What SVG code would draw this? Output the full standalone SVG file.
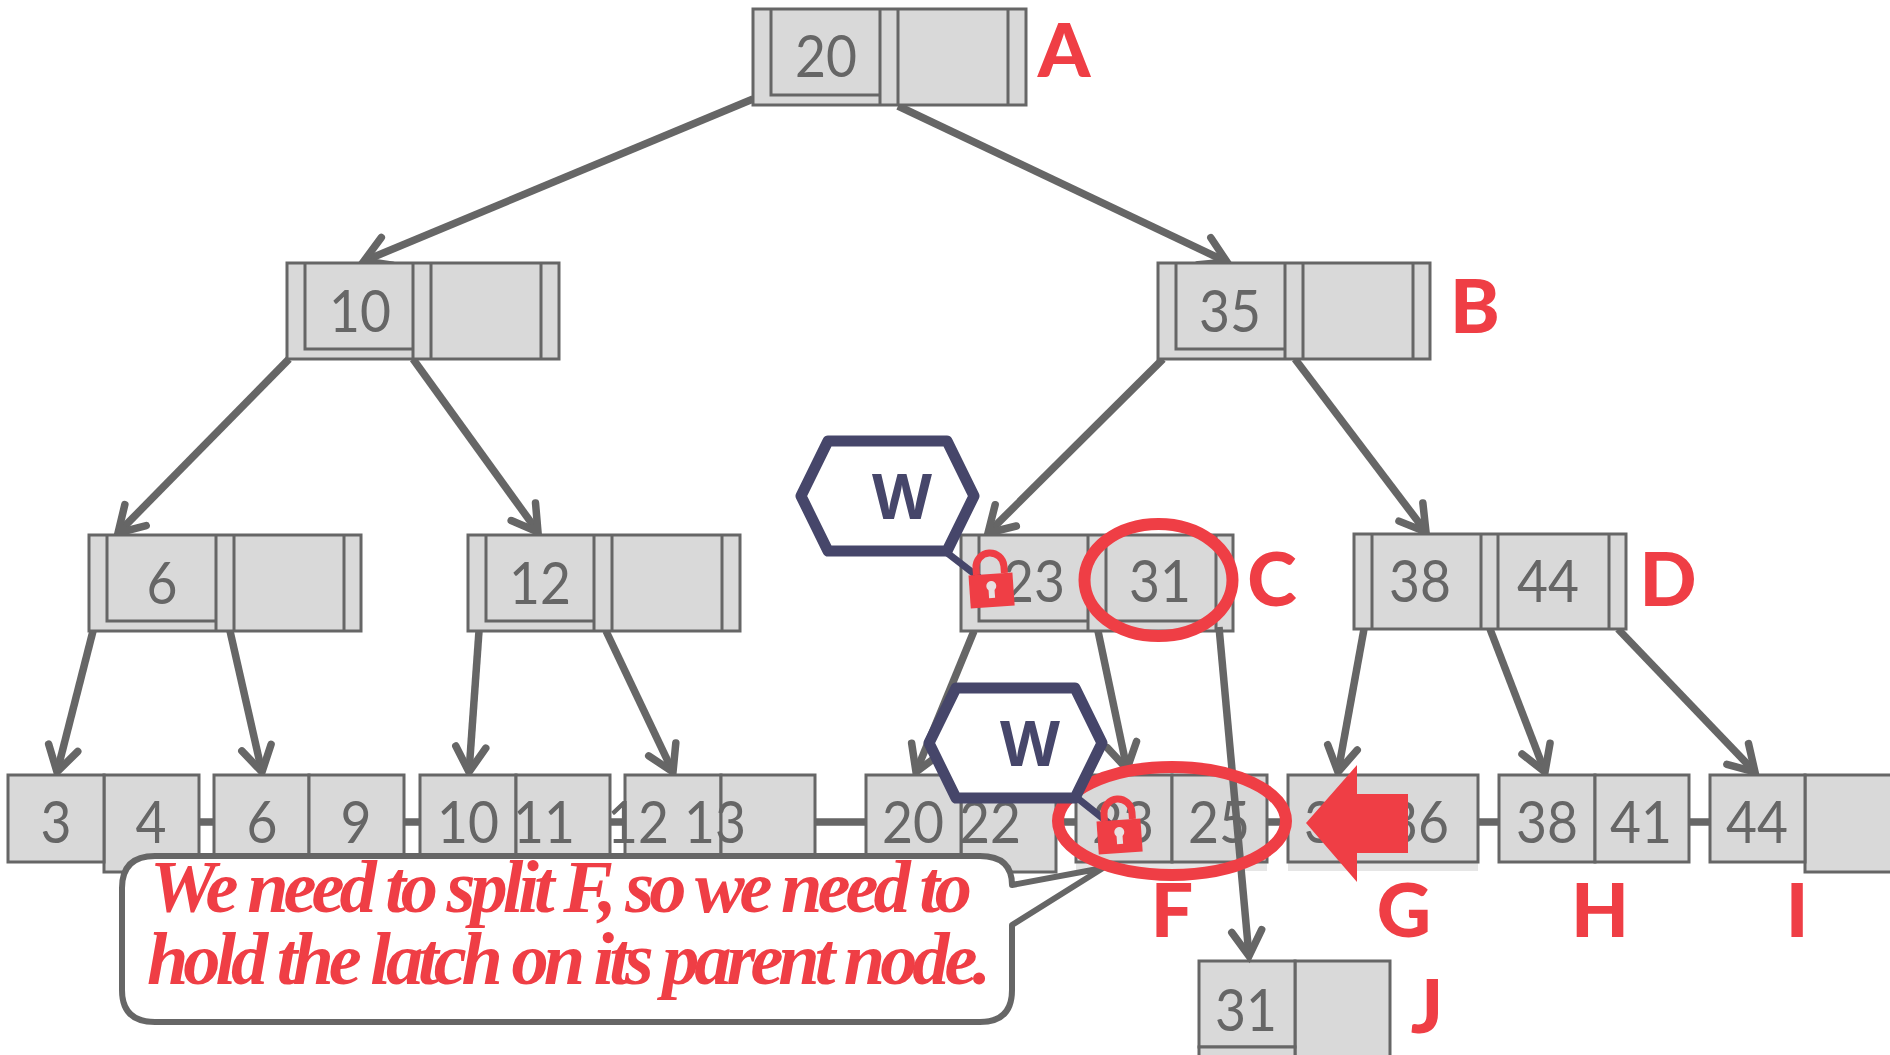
<svg xmlns="http://www.w3.org/2000/svg" width="1890" height="1055" viewBox="0 0 1890 1055">
<style>
.c{fill:#d9d9d9;stroke:#666;stroke-width:3}
.i{fill:none;stroke:#666;stroke-width:3}
.n{font-family:Lato,"Liberation Sans",sans-serif;font-size:59px;fill:#666;text-anchor:middle}
.l{font-family:Lato,"Liberation Sans",sans-serif;font-size:75px;font-weight:900;fill:#ef3e45;text-anchor:middle}
.w{font-family:"Open Sans","Liberation Sans",sans-serif;font-size:62px;font-weight:700;fill:#46466a;text-anchor:middle}
.a{fill:none;stroke:#666;stroke-width:7.500;marker-end:url(#h)}
.k{fill:none;stroke:#666;stroke-width:7.500}
.hx{fill:#fff;stroke:#46466a;stroke-width:11;stroke-linejoin:round}
.wl{stroke:#46466a;stroke-width:7;fill:none}
.e{fill:none;stroke:#ef3e45;stroke-width:12}
.s{font-family:"Liberation Serif",serif;font-size:74px;font-weight:700;font-style:italic;fill:#ef3e45;letter-spacing:-5px}
</style>
<defs>
<marker id="h" markerUnits="userSpaceOnUse" markerWidth="40" markerHeight="40" refX="30" refY="20" orient="auto" overflow="visible">
<path d="M5,5 L30,20 L5,35" fill="none" stroke="#666" stroke-width="7.500" stroke-linecap="round"/>
</marker>
<g id="lock">
<path d="M-14,-8 V-15 a14,14 0 0 1 28,0 V-8" fill="none" stroke="#ef3e45" stroke-width="7"/>
<rect x="-22" y="-8" width="44" height="33" fill="#ef3e45"/>
<circle cx="0" cy="4" r="5" fill="#e8e0e0"/>
<rect x="-3" y="4" width="6" height="12" fill="#e8e0e0"/>
</g>
</defs>

<g id="connectors">
<path class="k" d="M199,822H214M404,822H420M610,822H625M815,822H866M1056,822H1076M1267,822H1288M1478,822H1499M1689,822H1710"/>
<line class="a" x1="753" y1="99" x2="364" y2="261"/>
<line class="a" x1="898" y1="106" x2="1227" y2="262"/>
<line class="a" x1="289" y1="359" x2="118" y2="533"/>
<line class="a" x1="413" y1="359" x2="538" y2="532"/>
<line class="a" x1="1163" y1="359" x2="988" y2="533"/>
<line class="a" x1="1295" y1="359" x2="1426" y2="532"/>
<line class="a" x1="93" y1="631" x2="57" y2="772"/>
<line class="a" x1="230" y1="631" x2="262" y2="772"/>
<line class="a" x1="479" y1="631" x2="469" y2="772"/>
<line class="a" x1="606" y1="631" x2="673" y2="772"/>
<line class="a" x1="974" y1="631" x2="916" y2="772"/>
<line class="a" x1="1098" y1="631" x2="1127" y2="769"/>
<line class="a" x1="1364" y1="629" x2="1338" y2="772"/>
<line class="a" x1="1490" y1="629" x2="1545" y2="772"/>
<line class="a" x1="1618" y1="629" x2="1755" y2="772"/>
</g>

<g id="node-A">
<rect class="c" x="753" y="9" width="273" height="96"/>
<path class="i" d="M771,9V95H880M880,9V105M898,9V105M1008,9V105"/>
<text class="n" x="826" y="77" textLength="62" lengthAdjust="spacingAndGlyphs">20</text>
</g>
<g id="node-B1">
<rect class="c" x="287" y="263" width="272" height="96"/>
<path class="i" d="M305,263V349H413M413,263V359M431,263V359M541,263V359"/>
<text class="n" x="360" y="332" textLength="62" lengthAdjust="spacingAndGlyphs">10</text>
</g>
<g id="node-B">
<rect class="c" x="1158" y="263" width="272" height="96"/>
<path class="i" d="M1176,263V349H1285M1285,263V359M1303,263V359M1413,263V359"/>
<text class="n" x="1230" y="332" textLength="62" lengthAdjust="spacingAndGlyphs">35</text>
</g>
<g id="node-6">
<rect class="c" x="89" y="535" width="272" height="96"/>
<path class="i" d="M107,535V621H216M216,535V631M234,535V631M344,535V631"/>
<text class="n" x="162" y="604" textLength="31" lengthAdjust="spacingAndGlyphs">6</text>
</g>
<g id="node-12">
<rect class="c" x="468" y="535" width="272" height="96"/>
<path class="i" d="M486,535V621H594M594,535V631M612,535V631M722,535V631"/>
<text class="n" x="540" y="604" textLength="62" lengthAdjust="spacingAndGlyphs">12</text>
</g>
<g id="node-C">
<rect class="c" x="961" y="535" width="272" height="96"/>
<path class="i" d="M979,535V621H1088M1088,535V631M1106,535V621H1216M1216,535V631"/>
<text class="n" x="1034" y="602" textLength="62" lengthAdjust="spacingAndGlyphs">23</text>
<text class="n" x="1160" y="602" textLength="62" lengthAdjust="spacingAndGlyphs">31</text>
</g>
<g id="node-D">
<rect class="c" x="1354" y="534" width="272" height="95"/>
<path class="i" d="M1372,534V629M1481,534V629M1498,534V629M1609,534V629"/>
<text class="n" x="1420" y="602" textLength="62" lengthAdjust="spacingAndGlyphs">38</text>
<text class="n" x="1548" y="602" textLength="62" lengthAdjust="spacingAndGlyphs">44</text>
</g>

<g id="leaf-1">
<rect class="c" x="104" y="775" width="95" height="97"/>
<rect class="c" x="8" y="775" width="96" height="87"/>
<text class="n" x="56" y="843" textLength="31" lengthAdjust="spacingAndGlyphs">3</text>
<text class="n" x="151" y="843" textLength="31" lengthAdjust="spacingAndGlyphs">4</text>
</g>
<g id="leaf-2">
<rect class="c" x="214" y="775" width="95" height="87"/>
<rect class="c" x="309" y="775" width="95" height="87"/>
<text class="n" x="262" y="843" textLength="31" lengthAdjust="spacingAndGlyphs">6</text>
<text class="n" x="356" y="843" textLength="31" lengthAdjust="spacingAndGlyphs">9</text>
</g>
<g id="leaf-3">
<rect class="c" x="420" y="775" width="96" height="87"/>
<rect class="c" x="516" y="775" width="94" height="87"/>
<text class="n" x="468" y="843" textLength="62" lengthAdjust="spacingAndGlyphs">10</text>
<text class="n" x="544" y="843" textLength="62" lengthAdjust="spacingAndGlyphs">11</text>
</g>
<g id="leaf-4">
<rect class="c" x="625" y="775" width="96" height="87"/>
<rect class="c" x="721" y="775" width="94" height="87"/>
<text class="n" x="638" y="843" textLength="62" lengthAdjust="spacingAndGlyphs">12</text>
<text class="n" x="715" y="843" textLength="62" lengthAdjust="spacingAndGlyphs">13</text>
</g>
<g id="leaf-E">
<rect class="c" x="961" y="775" width="95" height="97"/>
<rect class="c" x="866" y="775" width="95" height="87"/>
<text class="n" x="913" y="843" textLength="62" lengthAdjust="spacingAndGlyphs">20</text>
<text class="n" x="990" y="843" textLength="62" lengthAdjust="spacingAndGlyphs">22</text>
</g>
<g id="leaf-F">
<rect x="1076" y="862" width="191" height="9" fill="#e6e6e6"/>
<rect class="c" x="1076" y="775" width="96" height="87"/>
<rect class="c" x="1172" y="775" width="95" height="87"/>
<text class="n" x="1123" y="843" textLength="62" lengthAdjust="spacingAndGlyphs">23</text>
<text class="n" x="1219" y="843" textLength="62" lengthAdjust="spacingAndGlyphs">25</text>
</g>
<g id="leaf-G">
<rect x="1288" y="862" width="190" height="9" fill="#e6e6e6"/>
<rect class="c" x="1288" y="775" width="190" height="87"/>
<text class="n" x="1335" y="843" textLength="62" lengthAdjust="spacingAndGlyphs">35</text>
<text class="n" x="1418" y="843" textLength="62" lengthAdjust="spacingAndGlyphs">36</text>
</g>
<g id="leaf-H">
<rect class="c" x="1499" y="775" width="96" height="87"/>
<rect class="c" x="1595" y="775" width="94" height="87"/>
<text class="n" x="1547" y="843" textLength="62" lengthAdjust="spacingAndGlyphs">38</text>
<text class="n" x="1641" y="843" textLength="62" lengthAdjust="spacingAndGlyphs">41</text>
</g>
<g id="leaf-I">
<rect class="c" x="1805" y="775" width="95" height="97"/>
<rect class="c" x="1710" y="775" width="95" height="87"/>
<text class="n" x="1757" y="843" textLength="62" lengthAdjust="spacingAndGlyphs">44</text>
</g>
<g id="leaf-J">
<rect class="c" x="1295" y="961" width="95" height="110"/>
<rect class="c" x="1199" y="961" width="96" height="86"/>
<rect class="c" x="1199" y="1047" width="96" height="24"/>
<text class="n" x="1246" y="1031" textLength="62" lengthAdjust="spacingAndGlyphs">31</text>
</g>

<line class="a" x1="1219" y1="627" x2="1249" y2="956"/>

<g id="label-letters">
<text class="l" x="1064" y="77">A</text>
<text class="l" x="1475" y="333">B</text>
<text class="l" x="1272" y="606">C</text>
<text class="l" x="1668" y="606">D</text>
<text class="l" x="1172" y="937">F</text>
<text class="l" x="1404" y="937">G</text>
<text class="l" x="1600" y="937">H</text>
<text class="l" x="1797" y="937">I</text>
<text class="l" x="1427" y="1033">J</text>
</g>

<g id="callout">
<path d="M155,856H980Q1012,856 1012,885L1103,868L1012,925V990Q1012,1022 980,1022H155Q122,1022 122,990V888Q122,856 155,856Z" fill="#fff" stroke="#666" stroke-width="6" stroke-linejoin="round"/>
<text class="s" x="150" y="912" textLength="817" lengthAdjust="spacingAndGlyphs">We need to split F, so we need to</text>
<text class="s" x="147" y="984" textLength="839" lengthAdjust="spacingAndGlyphs">hold the latch on its parent node.</text>
</g>

<ellipse id="ring-C" class="e" cx="1158.500" cy="580" rx="74" ry="56"/>
<ellipse id="ring-F" class="e" cx="1172" cy="821" rx="114" ry="54"/>

<g id="latch-C">
<line class="wl" x1="946" y1="552" x2="990" y2="586"/>
<polygon class="hx" points="801,496 828,441 947,441 974,496 947,551 828,551"/>
<text class="w" x="902" y="519">W</text>
<use href="#lock" transform="translate(991,582) rotate(-4)"/>
</g>
<g id="latch-F">
<line class="wl" x1="1076" y1="797" x2="1120" y2="832"/>
<polygon class="hx" points="929,743 956,688 1075,688 1102,743 1075,798 956,798"/>
<text class="w" x="1030" y="766">W</text>
<use href="#lock" transform="translate(1119,828) rotate(-4)"/>
</g>

<polygon id="red-arrow" points="1306,823 1357,765 1357,794 1408,794 1408,853 1357,853 1357,882" fill="#ef3e45"/>
</svg>
